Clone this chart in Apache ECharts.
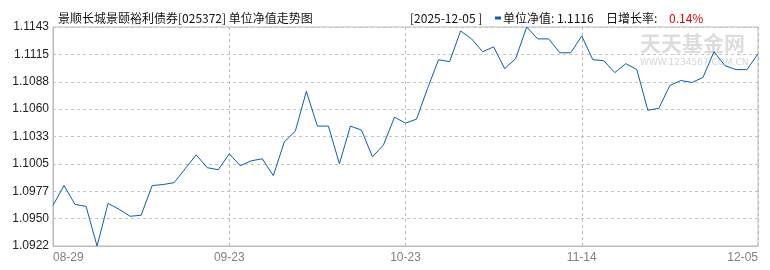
<!DOCTYPE html>
<html>
<head>
<meta charset="utf-8">
<script src="https://cdn.jsdelivr.net/npm/echarts@6/dist/echarts.min.js"></script>
<style>html,body{margin:0;padding:0;background:#fff}#c{width:770px;height:270px}</style>
</head>
<body>
<div id="c"></div>
<script>
var dates = ['08-29',
 '09-02','09-03','09-04','09-05','09-08','09-09','09-10','09-11','09-12','09-15','09-16','09-17','09-18','09-19','09-22','09-23',
 '09-24','09-25','09-26','09-29','09-30','10-09','10-10','10-13','10-14','10-15','10-16','10-17','10-20','10-21','10-22','10-23',
 '10-24','10-27','10-28','10-29','10-30','10-31','11-03','11-04','11-05','11-06','11-07','11-10','11-11','11-12','11-13','11-14',
 '11-17','11-18','11-19','11-20','11-21','11-24','11-25','11-26','11-27','11-28','11-30','12-01','12-02','12-03','12-04','12-05'];
var nav = [1.0963,1.0983,1.0964,1.0962,1.0922,1.0965,1.0959,1.0952,1.0953,1.0983,1.0984,1.0986,1.1000,1.1014,1.1001,1.0999,1.1015,
 1.1003,1.1008,1.1010,1.0993,1.1027,1.1038,1.1078,1.1043,1.1043,1.1005,1.1043,1.1039,1.1012,1.1024,1.1052,1.1046,
 1.1050,1.1081,1.1110,1.1108,1.1139,1.1131,1.1118,1.1123,1.1101,1.1111,1.1143,1.1131,1.1131,1.1117,1.1117,1.1134,
 1.1110,1.1109,1.1097,1.1106,1.1100,1.1059,1.1061,1.1084,1.1089,1.1087,1.1092,1.1118,1.1104,1.1100,1.1100,1.1116];
var yTicks = ['1.0922','1.0950','1.0977','1.1005','1.1033','1.1060','1.1088','1.1115','1.1143'];
var fundName = '景顺长城景颐裕利债券[025372] 单位净值走势图';
var lastDate = '2025-12-05';
var lastNav = '1.1116';
var dayGrowth = '0.14%';

var yMin = Number(yTicks[0]), yMax = Number(yTicks[yTicks.length-1]);
var yInt = (yMax - yMin) / (yTicks.length - 1);
var NUM = '"Liberation Sans", Arial, "Noto Sans CJK SC", sans-serif';
var CJK = '"Noto Sans CJK SC", sans-serif';
var chart = echarts.init(document.getElementById('c'), null, {renderer:'canvas'});
chart.setOption({
  animation: false,
  title: [
    {text: fundName, left: 53, top: 7, textStyle: {fontSize: 12, fontWeight: 'normal', color: '#111', fontFamily: CJK}},
    {text: '{d|[' + lastDate + ' ]}{bar|}{n|单位净值: ' + lastNav + '}{g|日增长率: }{r|' + dayGrowth + '}',
     left: 405, top: 7,
     textStyle: {fontSize: 12, fontWeight: 'normal', color: '#111', fontFamily: CJK,
       rich: {
         d: {fontSize: 12, color: '#111', fontFamily: CJK, width: 85, letterSpacing: 0.5},
         bar: {width: 6, height: 3, backgroundColor: '#0b5db0', padding: [0, 0, 0, 0]},
         n: {fontSize: 12, color: '#111', fontFamily: CJK, width: 103, padding: [0, 0, 0, 2], letterSpacing: 0.4},
         g: {fontSize: 12, color: '#111', fontFamily: CJK, width: 63},
         r: {fontSize: 12, color: '#e00000', fontFamily: CJK, letterSpacing: 0.8}
       }}}
  ],
  graphic: [
    {type: 'text', left: 640, top: 33, z: 0, silent: true,
     style: {text: '天天基金网', fontSize: 21, fontWeight: 'bold', fill: '#dcdcdc', fontFamily: CJK}},
    {type: 'text', left: 640, top: 58, z: 0, silent: true,
     style: {text: 'WWW.1234567.COM.CN', fontSize: 9, fill: '#d4d4d4', fontFamily: '"DejaVu Sans", sans-serif'}}
  ],
  grid: {left: 53, right: 12, top: 27, bottom: 24, show: true, borderColor: '#bbb', borderWidth: 1, backgroundColor: 'transparent'},
  xAxis: {
    type: 'category', boundaryGap: false, data: dates,
    axisLine: {show: true, lineStyle: {color: '#bbb'}},
    axisTick: {show: false},
    axisLabel: {interval: 15, color: '#808080', fontSize: 12, margin: 6, fontFamily: NUM,
      alignMinLabel: 'left', alignMaxLabel: 'right'},
    splitLine: {show: true, interval: 15, lineStyle: {color: '#bbb', type: [3, 3]}}
  },
  yAxis: {
    type: 'value', min: yMin, max: yMax, interval: yInt,
    axisLine: {show: true, lineStyle: {color: '#bbb'}},
    axisTick: {show: false},
    axisLabel: {color: '#222', fontSize: 12, margin: 4, fontFamily: NUM,
      formatter: function (v) { return Number(v).toFixed(4); }},
    splitLine: {show: true, lineStyle: {color: '#c4c4c4', type: [3, 3]}}
  },
  series: [{
    type: 'line', data: nav, symbol: 'none', smooth: false, z: 5,
    lineStyle: {color: '#0b5db0', width: 1}
  }]
});
</script>
</body>
</html>
